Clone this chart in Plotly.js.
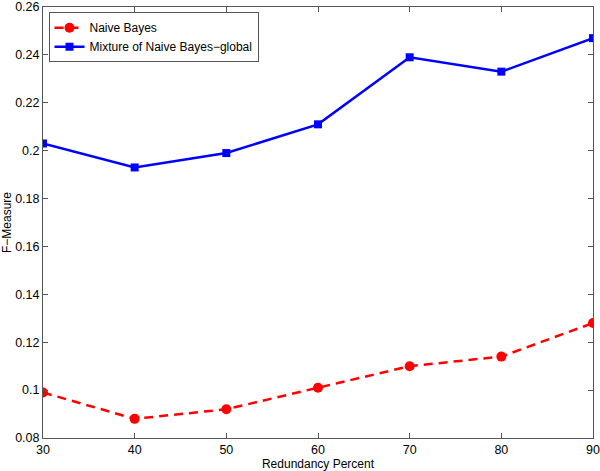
<!DOCTYPE html>
<html>
<head>
<meta charset="utf-8">
<script src="https://cdn.plot.ly/plotly-3.0.1.min.js"></script>
<style>
  html, body { margin: 0; padding: 0; background: #fff; }
  #chart { width: 600px; height: 471px; }
</style>
</head>
<body>
<div id="chart"></div>
<script>
var redundancy = [30, 40, 50, 60, 70, 80, 90];
var naiveBayes = [0.099, 0.088, 0.092, 0.101, 0.110, 0.114, 0.128];
var mixtureGlobal = [0.203, 0.193, 0.199, 0.211, 0.239, 0.233, 0.247];
var yTicks = [0.08, 0.1, 0.12, 0.14, 0.16, 0.18, 0.2, 0.22, 0.24, 0.26];

var trace0 = {
    x: redundancy,
    y: naiveBayes,
    name: 'Naive Bayes',
    mode: 'lines+markers',
    type: 'scatter',
    line: { color: '#ff0000', width: 2.5, dash: '9px,6px' },
    marker: { color: '#ff0000', size: 10, symbol: 'circle' }
};
var trace1 = {
    x: redundancy,
    y: mixtureGlobal,
    name: 'Mixture of Naive Bayes\u2212global',
    mode: 'lines+markers',
    type: 'scatter',
    line: { color: '#0000ff', width: 2.5 },
    marker: { color: '#0000ff', size: 8, symbol: 'square' }
};

var axisStyle = {
    showgrid: false,
    zeroline: false,
    showline: true,
    mirror: 'ticks',
    linecolor: '#555',
    linewidth: 1,
    ticks: 'inside',
    ticklen: 5,
    tickcolor: '#555',
    ticklabeloverflow: 'allow',
    tickfont: { family: 'Liberation Sans, Arial, sans-serif', size: 12.5, color: '#000' }
};

var layout = {
    width: 600,
    height: 471,
    margin: { l: 43, r: 7, t: 7, b: 33 },
    paper_bgcolor: '#fff',
    plot_bgcolor: '#fff',
    font: { family: 'Liberation Sans, Arial, sans-serif', size: 12, color: '#000' },
    showlegend: true,
    legend: {
        x: 0.01, y: 0.988, xanchor: 'left', yanchor: 'top',
        bgcolor: '#fff', bordercolor: '#555', borderwidth: 1,
        font: { size: 12 },
        itemwidth: 30,
        tracegroupgap: 0
    },
    xaxis: Object.assign({}, axisStyle, {
        range: [30, 90],
        tickvals: redundancy,
        ticktext: redundancy.map(String),
        title: { text: 'Redundancy Percent', standoff: 2, font: { size: 12 } }
    }),
    yaxis: Object.assign({}, axisStyle, {
        range: [0.08, 0.26],
        tickvals: yTicks,
        ticktext: yTicks.map(function (v) { return String(+v.toFixed(2)); }),
        ticklabelstandoff: 0,
        title: { text: 'F\u2212Measure', standoff: 0, font: { size: 12 } }
    })
};

Plotly.newPlot('chart', [trace0, trace1], layout, { displayModeBar: false });
</script>
</body>
</html>
